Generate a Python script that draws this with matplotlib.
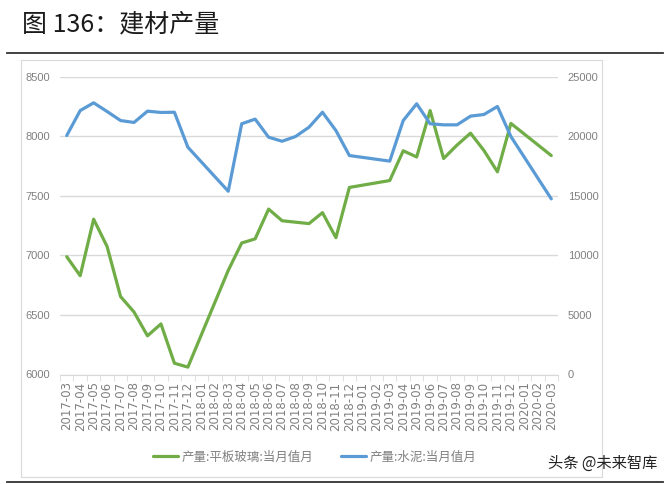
import matplotlib
matplotlib.use("Agg")
import matplotlib.pyplot as plt
from matplotlib.lines import Line2D
from matplotlib.patches import Rectangle
import numpy as np

plt.rcParams['font.family'] = ['Noto Sans CJK SC', 'DejaVu Sans']

# ---- data ----
months = ["2017-03", "2017-04", "2017-05", "2017-06", "2017-07", "2017-08", "2017-09",
          "2017-10", "2017-11", "2017-12", "2018-01", "2018-02", "2018-03", "2018-04",
          "2018-05", "2018-06", "2018-07", "2018-08", "2018-09", "2018-10", "2018-11",
          "2018-12", "2019-01", "2019-02", "2019-03", "2019-04", "2019-05", "2019-06",
          "2019-07", "2019-08", "2019-09", "2019-10", "2019-11", "2019-12", "2020-01",
          "2020-02", "2020-03"]
glass = [6990, 6830, 7305, 7075, 6655, 6525, 6325, 6425, 6095, 6062, None, None, 6875, 7105,
         7140, 7390, 7292, 7280, 7268, 7360, 7150, 7572, None, None, 7630, 7880, 7828, 8218,
         7815, 7928, 8028, 7882, 7703, 8110, None, None, 7840]
cement = [20080, 22180, 22830, 22100, 21340, 21180, 22130, 22020, 22040, 19100, None, None,
          15400, 21070, 21460, 19940, 19600, 20000, 20780, 22040, 20500, 18400, None, None,
          17930, 21340, 22750, 21070, 20980, 20980, 21710, 21850, 22520, 20000, None, None,
          14760]
left_ticks = [6000, 6500, 7000, 7500, 8000, 8500]
right_ticks = [0, 5000, 10000, 15000, 20000, 25000]
label_glass = "产量:平板玻璃:当月值月"
label_cement = "产量:水泥:当月值月"
title = "图 136：建材产量"
watermark = "头条 @未来智库"

GREEN = "#70AD47"
BLUE = "#5B9BD5"
GREY = "#808080"

W, H = 670, 484
fig = plt.figure(figsize=(W / 100, H / 100), dpi=100)

def fx(px):
    return px / W

def fy(py):
    return 1 - py / H

# decorations
fig.text(fx(22), fy(24), title, fontsize=18, color="#1a1a1a", va="center", ha="left")
fig.add_artist(Line2D([fx(7), fx(663)], [fy(53), fy(53)], color="#333333", lw=1.3))
fig.add_artist(Line2D([fx(7), fx(663)], [fy(482), fy(482)], color="#333333", lw=1.3))
fig.add_artist(Rectangle((fx(21), fy(477)), fx(602) - fx(21), fy(60) - fy(477),
                         fill=False, edgecolor="#d9d9d9", lw=0.8))

x0, x1, ytop, ybot = 60, 558, 77, 374.5
ax = fig.add_axes([fx(x0), fy(ybot), fx(x1) - fx(x0), fy(ytop) - fy(ybot)])
ax2 = ax.twinx()

n = len(months)
xs = np.arange(n)
gi = [i for i, v in enumerate(glass) if v is not None]
ci = [i for i, v in enumerate(cement) if v is not None]

ax.set_ylim(6000, 8500)
ax2.set_ylim(0, 25000)
ax.set_xlim(-0.5, n - 0.5)

ax.set_yticks(left_ticks)
ax2.set_yticks(right_ticks)
ax.yaxis.grid(True, color="#d9d9d9", lw=1.0)
ax.set_axisbelow(True)

l1, = ax.plot(gi, [glass[i] for i in gi], color=GREEN, lw=2.3, solid_joinstyle="round",
              solid_capstyle="round", zorder=3)
l2, = ax2.plot(ci, [cement[i] for i in ci], color=BLUE, lw=2.3, solid_joinstyle="round",
               solid_capstyle="round", zorder=3)

for a in (ax, ax2):
    for s in ("top", "left", "right"):
        a.spines[s].set_visible(False)
    a.spines["bottom"].set_color("#d9d9d9")
ax2.spines["bottom"].set_visible(False)

ax.tick_params(axis="y", length=0, labelsize=8, labelcolor=GREY, pad=7)
ax2.tick_params(axis="y", length=0, labelsize=8, labelcolor=GREY, pad=7)
for lab in ax.get_yticklabels() + ax2.get_yticklabels():
    lab.set_family("Liberation Sans")

ax.set_xticks(xs)
ax.set_xticklabels(months, rotation=90, fontsize=8.5, color=GREY, family="DejaVu Sans")
ax.tick_params(axis="x", which="major", length=0, pad=5)
ax.set_xticks(np.arange(-0.5, n, 1.0), minor=True)
ax.tick_params(axis="x", which="minor", length=4, color="#d9d9d9")

fig.legend([l1, l2], [label_glass, label_cement], loc="center",
           bbox_to_anchor=(fx(315), fy(457)), ncol=2, frameon=False, fontsize=9,
           labelcolor=GREY, handlelength=2.0, columnspacing=2.2, handletextpad=0.3)

fig.text(fx(657), fy(463), watermark, fontsize=11, color="#222222", ha="right", va="center")

fig.savefig("out.png", dpi=100)
